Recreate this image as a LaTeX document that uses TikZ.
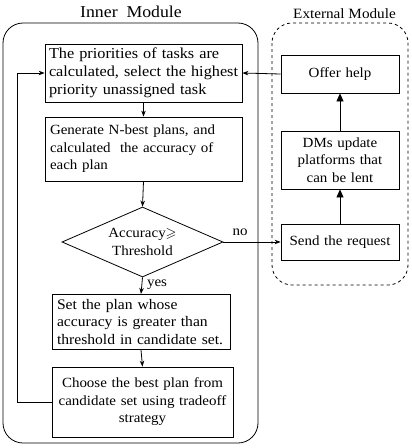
\documentclass[tikz,border=0pt]{standalone}
\usepackage{amssymb}
\usepackage{fontspec}
\setmainfont{Liberation Serif}[FakeStretch=1.07]
\usetikzlibrary{shapes.geometric,arrows.meta}
\begin{document}
\begin{tikzpicture}[x=1pt,y=-1pt,
  txt/.style={font=\fontsize{14}{17.5}\selectfont},
  boxl/.style={draw,line width=0.8pt,txt,align=left,inner sep=5pt,anchor=center},
  boxc/.style={draw,line width=0.8pt,txt,align=center,inner sep=2pt,anchor=center},
  flow/.style={line width=0.8pt,-{Stealth[length=6pt,width=4.5pt]}},
  upflow/.style={line width=0.8pt,-{Triangle[length=8pt,width=7pt]}},
  lbl/.style={txt,inner sep=1pt}]
\useasboundingbox (0,0) rectangle (412,448);

% module frames
\draw[line width=0.8pt,rounded corners=20pt] (3,23) rectangle (258,443);
\draw[line width=0.8pt,dashed,rounded corners=20pt] (272,23) rectangle (408,285);
\node[font=\fontsize{16.6}{19}\selectfont] (innert) at (131,12) {Inner\ \ Module};
\node[font=\fontsize{14.2}{16}\selectfont] (extt) at (344.5,14) {External Module};

% inner module steps
\node[boxl,text width=189pt,inner sep=4pt,minimum height=52pt,
      font=\fontsize{15.2}{18}\selectfont] (prio) at (143.5,73)
  {\mbox{The priorities of tasks are}\\\mbox{calculated, select the highest}\\\mbox{priority unassigned task}};
\node[boxl,text width=187pt,minimum height=64pt] (gen) at (143.5,149)
  {Generate N-best plans, and\\calculated\ \ the accuracy of\\each plan};
\node[draw,line width=0.8pt,diamond,aspect=2.3,inner sep=0pt,
      minimum width=161pt,minimum height=70pt,txt,align=center] (acc) at (142.5,242)
  {Accuracy$\geqslant$\\Threshold};
\node[boxl,text width=168pt,minimum height=54pt,
      font=\fontsize{14.6}{17.5}\selectfont] (setp) at (141,322)
  {\mbox{Set the plan whose}\\\mbox{accuracy is greater than}\\\mbox{threshold in candidate set.}};
\node[boxc,text width=177pt,minimum height=70pt] (choose) at (142.5,402)
  {Choose the best plan from\\candidate set using tradeoff\\strategy};

% external module steps
\node[boxc,text width=114pt,minimum height=38pt] (offer) at (340,74) {Offer help};
\node[boxc,text width=114pt,minimum height=58pt] (dms) at (340,160)
  {DMs update\\platforms that\\can be lent};
\node[boxc,text width=114pt,minimum height=36pt] (send) at (340,242) {Send the request};

% connectors
\draw[flow] (prio.south) -- (gen.north);
\draw[flow] (gen.south) -- (acc.north);
\draw[flow] (acc.south) -- (setp.north);
\draw[flow] (setp.south) -- (choose.north);
\coordinate (loopb) at (17,402);
\coordinate (loopt) at (17,73);
\draw[flow] (choose.west) -- (loopb) -- (loopt) -- (prio.west);
\draw[flow] (acc.east) -- (send.west);
\draw[flow] (offer.west) -- (prio.east);
\draw[upflow] (send.north) -- (dms.south);
\draw[upflow] (dms.north) -- (offer.south);

\node[lbl] (nolbl) at (240,232) {no};
\node[lbl] (yeslbl) at (157,285) {yes};
\end{tikzpicture}
\end{document}
